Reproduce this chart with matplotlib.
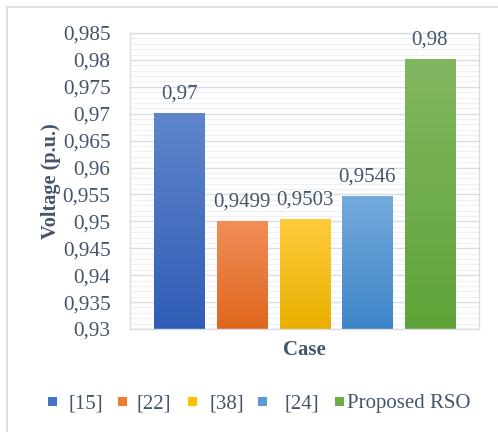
import numpy as np
import matplotlib.pyplot as plt
from matplotlib.colors import LinearSegmentedColormap
from matplotlib.lines import Line2D
from matplotlib.patches import Rectangle

plt.rcParams['font.family'] = ['Liberation Serif', 'DejaVu Serif']

# voltage per method
cases = ["[15]", "[22]", "[38]", "[24]", "Proposed RSO"]
voltage = [0.97, 0.9499, 0.9503, 0.9546, 0.98]
value_text = ["0,97", "0,9499", "0,9503", "0,9546", "0,98"]
yticks = [0.93, 0.935, 0.94, 0.945, 0.95, 0.955, 0.96, 0.965, 0.97, 0.975, 0.98, 0.985]

base = ["#4472C4", "#ED7D31", "#FFC000", "#5B9BD5", "#70AD47"]
tops = ["#5F86CB", "#F08E58", "#FFCB3C", "#74AADC", "#82B761"]
bottoms = ["#2F5DB6", "#E0661D", "#E9B000", "#3E85C7", "#5FA338"]

text_col = "#44546A"
grid_major = "#D9DEE6"
grid_minor = "#EEF0F4"

W, H = 498, 432
fig = plt.figure(figsize=(W / 100, H / 100), dpi=100)
ax = fig.add_axes([0.261, 0.2384, 0.701, 0.6852])

ymin, ymax = 0.93, 0.985

# grid: faint minor lines every 0.001, stronger every 0.005
for v in np.arange(ymin, ymax + 1e-9, 0.001):
    ax.axhline(v, color=grid_minor, lw=0.8, zorder=0)
for v in yticks:
    ax.axhline(v, color=grid_major, lw=1.0, zorder=0)

x = np.arange(len(cases))
w = 0.8
grad = np.linspace(0, 1, 256).reshape(-1, 1)
for i, v in enumerate(voltage):
    cmap = LinearSegmentedColormap.from_list(f"g{i}", [bottoms[i], tops[i]])
    ax.imshow(grad, cmap=cmap, origin="lower", aspect="auto",
              extent=(x[i] - w / 2, x[i] + w / 2, ymin, v), zorder=2)
    ax.annotate(value_text[i], (x[i], v), xytext=(0, 7.5), textcoords="offset points",
                ha="center", va="bottom", fontsize=15, color=text_col)

ax.set_xlim(-0.79, 4.79)
ax.set_ylim(ymin, ymax)
ax.set_yticks(yticks)
ax.set_yticklabels([f"{t:g}".replace(".", ",") for t in yticks], fontsize=15.3, color=text_col)
ax.tick_params(axis="y", length=0, pad=14)
ax.set_xticks([])
for s in ax.spines.values():
    s.set_color(grid_major)
    s.set_linewidth(1.0)

ax.set_xlabel("Case", fontsize=15, fontweight="bold", color=text_col, labelpad=8)
ax.set_ylabel("Voltage (p.u.)", fontsize=14.6, fontweight="bold", color=text_col, labelpad=1)

# legend row laid out in pixels
mark_x = [48, 118, 188, 258, 335]
text_x = [68, 137, 209, 284, 347]
ly = H - 401
for i, name in enumerate(cases):
    fig.add_artist(Rectangle((mark_x[i] / W, (ly - 4.5) / H), 9 / W, 9 / H,
                             transform=fig.transFigure, facecolor=base[i], edgecolor="none"))
    fig.text(text_x[i] / W, ly / H, name, ha="left", va="center_baseline",
             fontsize=15, color=text_col)

# chart frame
fig.add_artist(Line2D([7 / W, 7 / W], [0, 1 - 7 / H], color="#D9D9D9", lw=1.2))
fig.add_artist(Line2D([7 / W, 1], [1 - 7 / H, 1 - 7 / H], color="#D9D9D9", lw=1.2))

fig.savefig("out.png", dpi=100)
